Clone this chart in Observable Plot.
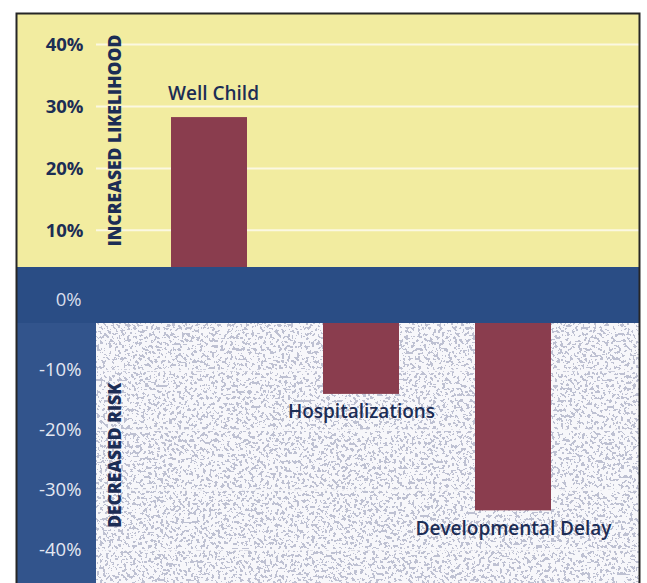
<!DOCTYPE html>
<html>
<head>
<meta charset="utf-8">
<script src="https://cdn.jsdelivr.net/npm/d3@7"></script>
<script src="https://cdn.jsdelivr.net/npm/@observablehq/plot@0.6"></script>
<style>
  html, body { margin: 0; padding: 0; background: #ffffff; overflow: hidden; }
  #chart svg { display: block; }
</style>
</head>
<body>
<div id="chart"></div>
<script>
// ---- data ----
const categories = ["Well Child", "Hospitalizations", "Developmental Delay"];
const values = [28.2, -14.0, -33.5];            // percent change
const upperTicks = [10, 20, 30, 40];
const lowerTicks = [-10, -20, -30, -40];
const zeroTick = [0];
const sideLabels = ["INCREASED LIKELIHOOD", "DECREASED RISK"];
const sideLabelY = [24.5, -24.2];

const data = categories.map((name, i) => ({name, value: values[i]}));
const sides = sideLabels.map((text, i) => ({text, y: sideLabelY[i]}));
const pct = d => `${d}%`;

const navy = "#1c2d55";
const svg = Plot.plot({
  width: 647,
  height: 586,
  marginTop: 13,
  marginLeft: 16,
  marginRight: 8,
  marginBottom: 0,
  style: {fontFamily: "'Open Sans', sans-serif", background: "transparent", overflow: "visible"},
  x: {type: "band", domain: categories, range: [94, 627], padding: 0.5, axis: null},
  y: {type: "linear", domain: [-46, -10, -4, 4, 45], range: [585, 370, 323, 267, 13], axis: null},
  marks: [
    // backgrounds
    Plot.rect([0], {y1: 4, y2: 45, fill: "#f2eca0"}),
    Plot.rect([0], {y1: -46, y2: -4, fill: "#32548c"}),
    Plot.rect([0], {y1: -46, y2: -4, fill: "#bec1d2", insetLeft: 80}),
    // gridlines
    Plot.ruleY(upperTicks, {stroke: "#fbf8e2", strokeWidth: 2, insetLeft: 80}),
    Plot.ruleY(lowerTicks, {stroke: "#f7f7fa", strokeWidth: 1.5, insetLeft: 80}),
    // bars
    Plot.barY(data, {x: "name", y: "value", fill: "#8a3d4e"}),
    // zero band
    Plot.rect([0], {y1: -4, y2: 4, fill: "#2a4d85"}),
    // tick labels
    Plot.text(upperTicks, {y: d => d, text: pct, frameAnchor: "left", dx: 67, dy: 1, textAnchor: "end",
      fill: navy, fontSize: 18.5, fontWeight: 700}),
    Plot.text(zeroTick, {y: d => d, text: pct, frameAnchor: "left", dx: 65, dy: 5, textAnchor: "end",
      fill: "#d8deec", fontSize: 18.5, fontWeight: 400}),
    Plot.text(lowerTicks, {y: d => d, text: pct, frameAnchor: "left", dx: 65, textAnchor: "end",
      fill: "#e4e8f2", fontSize: 18.5, fontWeight: 400}),
    // side labels
    Plot.text(sides, {y: "y", text: "text", frameAnchor: "left", dx: 99, rotate: -90, textAnchor: "middle",
      fill: navy, fontSize: 17.5, fontWeight: 800}),
    // bar labels
    Plot.text(data.filter(d => d.value > 0), {x: "name", y: "value", text: "name", dy: -24, dx: 4,
      fill: navy, fontSize: 19, fontWeight: 600}),
    Plot.text(data.filter(d => d.value < 0), {x: "name", y: "value", text: "name", dy: 18,
      fill: navy, fontSize: 19, fontWeight: 600}),
    // border
    Plot.frame({stroke: "#262626", strokeWidth: 2})
  ]
});

// speckled texture for the lower area
const defs = d3.select(svg).insert("defs", ":first-child");
defs.html(`
  <filter id="speck" x="0" y="0" width="1" height="1" color-interpolation-filters="sRGB">
    <feTurbulence type="fractalNoise" baseFrequency="0.33" numOctaves="2" seed="7" result="noise"/>
    <feColorMatrix in="noise" type="matrix" values="0 0 0 0 0.97  0 0 0 0 0.97  0 0 0 0 0.98  1 0 0 0 0.07" result="a"/>
    <feComponentTransfer in="a" result="b"><feFuncA type="discrete" tableValues="0 1"/></feComponentTransfer>
    <feComposite in="b" in2="SourceGraphic" operator="in" result="c"/>
    <feMerge><feMergeNode in="SourceGraphic"/><feMergeNode in="c"/></feMerge>
  </filter>`);
d3.select(svg).selectAll("g[fill='#bec1d2']").attr("filter", "url(#speck)");

document.getElementById("chart").appendChild(svg);
</script>
</body>
</html>
